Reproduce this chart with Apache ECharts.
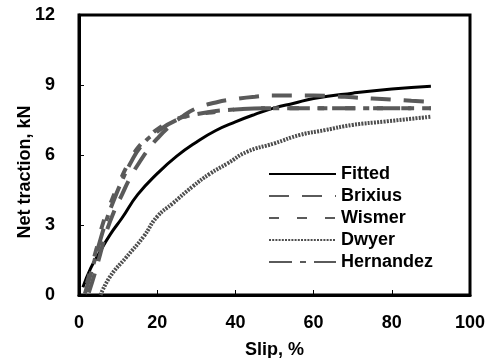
<!DOCTYPE html>
<html>
<head>
<meta charset="utf-8">
<script src="https://cdn.jsdelivr.net/npm/echarts@6/dist/echarts.min.js"></script>
<style>
  html, body { margin: 0; padding: 0; background: #fff; }
  #main { width: 490px; height: 358px; }
</style>
</head>
<body>
<div id="main"></div>
<script>
// slip (%) and net traction (kN)
const fittedSlip = [1, 3, 5, 8, 11, 15, 20, 25, 30, 35, 40, 45, 50, 55, 60, 70, 80, 90];
const fittedTraction = [0.33, 1.15, 1.75, 2.6, 3.3, 4.3, 5.2, 5.95, 6.55, 7.05, 7.42, 7.74, 8.02, 8.22, 8.42, 8.65, 8.83, 8.95];

const brixiusSlip = [2.5, 4, 5.5, 7, 9, 11, 13, 15.5, 18, 20, 23, 26, 30, 35, 40, 45, 50, 55, 60, 65, 70, 75, 80, 85, 90];
const brixiusTraction = [0.1, 0.9, 1.8, 2.7, 3.6, 4.3, 5.0, 5.7, 6.3, 6.7, 7.2, 7.6, 8.0, 8.25, 8.4, 8.5, 8.55, 8.55, 8.55, 8.52, 8.47, 8.42, 8.38, 8.33, 8.28];

const wismerSlip = [2, 3, 4.5, 6, 8, 10, 12.5, 15, 18, 20, 23, 26, 30, 35, 40, 50, 60, 70, 80, 90];
const wismerTraction = [0.5, 1.1, 2.0, 3.0, 3.9, 4.7, 5.6, 6.3, 6.8, 7.1, 7.4, 7.6, 7.75, 7.85, 7.95, 8.0, 8.0, 8.0, 8.0, 8.0];

const dwyerSlip = [5.5, 8, 12, 16.5, 20, 24, 29, 33.5, 38, 43, 50, 56.5, 63, 70, 78, 90];
const dwyerTraction = [0, 0.8, 1.6, 2.5, 3.36, 3.93, 4.64, 5.2, 5.64, 6.14, 6.5, 6.86, 7.07, 7.29, 7.43, 7.64];

const hernandezSlip = [1.5, 3, 5, 7, 9, 11, 13, 16, 20, 25, 30, 40, 50, 60, 70, 80, 90];
const hernandezTraction = [0.05, 0.9, 2.1, 3.2, 4.1, 4.9, 5.6, 6.4, 7.0, 7.5, 7.75, 7.95, 8.0, 8.0, 8.0, 8.0, 8.0];

const xTicks = [0, 20, 40, 60, 80, 100];
const yTicks = [0, 3, 6, 9, 12];

function pairs(xs, ys) {
  return xs.map((x, i) => [x, ys[i]]);
}

const font = '"Liberation Sans", Arial, sans-serif';

function lineSeries(name, xs, ys, color, width, type) {
  return {
    name: name,
    type: 'line',
    smooth: true,
    symbol: 'none',
    data: pairs(xs, ys),
    lineStyle: { color: color, width: width, type: type },
    itemStyle: { color: color }
  };
}

const chart = echarts.init(document.getElementById('main'));
chart.setOption({
  animation: false,
  backgroundColor: '#fff',
  grid: {
    left: 79, right: 20, top: 15, bottom: 63,
    outerBoundsMode: 'none',
    show: true, borderColor: '#000', borderWidth: 3
  },
  legend: {
    orient: 'vertical',
    left: 263, top: 160,
    itemWidth: 67, itemHeight: 14, itemGap: 4,
    itemStyle: { opacity: 0 },
    textStyle: { fontFamily: font, fontSize: 18, fontWeight: 'bold', color: '#000' },
    data: ['Fitted', 'Brixius', 'Wismer', 'Dwyer', 'Hernandez']
  },
  xAxis: {
    type: 'value',
    min: xTicks[0], max: xTicks[xTicks.length - 1], interval: 20,
    name: 'Slip, %',
    nameLocation: 'middle', nameGap: 46, nameMoveOverlap: false,
    nameTextStyle: { fontFamily: font, fontSize: 18, fontWeight: 'bold', color: '#000' },
    axisLine: { lineStyle: { color: '#000', width: 3 } },
    axisTick: { inside: true, length: 5, lineStyle: { color: '#000', width: 1 } },
    axisLabel: { margin: 19, fontFamily: font, fontSize: 18, fontWeight: 'bold', color: '#000' },
    splitLine: { show: false }
  },
  yAxis: {
    type: 'value',
    min: yTicks[0], max: yTicks[yTicks.length - 1], interval: 3,
    name: 'Net traction, kN',
    nameLocation: 'middle', nameGap: 45, nameMoveOverlap: false,
    nameTextStyle: { fontFamily: font, fontSize: 18, fontWeight: 'bold', color: '#000', padding: [0, 34, 0, 0] },
    axisLine: { show: true, lineStyle: { color: '#000', width: 3 } },
    axisTick: { show: true, inside: true, length: 5, lineStyle: { color: '#000', width: 1 } },
    axisLabel: { margin: 24, fontFamily: font, fontSize: 18, fontWeight: 'bold', color: '#000' },
    splitLine: { show: false }
  },
  series: [
    lineSeries('Fitted', fittedSlip, fittedTraction, '#000', 3, 'solid'),
    lineSeries('Brixius', brixiusSlip, brixiusTraction, '#5a5a5a', 4, [20, 13]),
    lineSeries('Wismer', wismerSlip, wismerTraction, '#5a5a5a', 4, [10, 18]),
    lineSeries('Dwyer', dwyerSlip, dwyerTraction, '#4e4e4e', 4, [2, 1.2]),
    lineSeries('Hernandez', hernandezSlip, hernandezTraction, '#5a5a5a', 4, [23, 8, 6, 8])
  ]
});
</script>
</body>
</html>
